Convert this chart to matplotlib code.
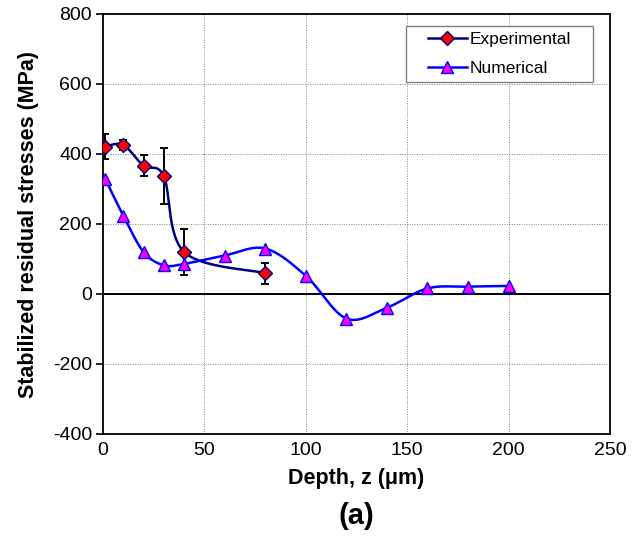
import numpy as np
import matplotlib
matplotlib.use("Agg")
import matplotlib.pyplot as plt
from matplotlib.lines import Line2D
from matplotlib.patches import Rectangle

plt.rcParams['font.family'] = ['Liberation Sans', 'DejaVu Sans']
plt.rcParams['axes.unicode_minus'] = False

exp_depth = [1, 10, 20, 30, 40, 80]
exp_stress = [421, 426, 366, 336, 120, 60]
exp_err = [35, 15, 30, 80, 65, 30]

num_depth = [1, 10, 20, 30, 40, 60, 80, 100, 120, 140, 160, 180, 200]
num_stress = [330, 224, 120, 82, 86, 110, 130, 52, -70, -39, 16, 21, 23]

x_ticks = [0, 50, 100, 150, 200, 250]
y_ticks = [-400, -200, 0, 200, 400, 600, 800]


def smooth(xs, ys, n=40):
    # Excel-style smoothed line: Bezier with Catmull-Rom control points
    xs = np.asarray(xs, float)
    ys = np.asarray(ys, float)
    P = np.column_stack([xs, ys])
    out = []
    m = len(P)
    for i in range(m - 1):
        p0 = P[i - 1] if i > 0 else P[i]
        p1 = P[i]
        p2 = P[i + 1]
        p3 = P[i + 2] if i + 2 < m else P[i + 1]
        c1 = p1 + (p2 - p0) / 6.0
        c2 = p2 - (p3 - p1) / 6.0
        t = np.linspace(0, 1, n)[:, None]
        seg = ((1 - t) ** 3) * p1 + 3 * ((1 - t) ** 2) * t * c1 + 3 * (1 - t) * t ** 2 * c2 + t ** 3 * p2
        out.append(seg if i == 0 else seg[1:])
    out = np.vstack(out)
    return out[:, 0], out[:, 1]


fig = plt.figure(figsize=(6.4, 5.37), dpi=100)
ax = fig.add_axes([103 / 640, 1 - 434 / 537, 507 / 640, 420 / 537])

ax.set_xlim(0, 250)
ax.set_ylim(-400, 800)
ax.set_xticks(x_ticks)
ax.set_yticks(y_ticks)
ax.grid(True, color='#808080', linestyle=(0, (1, 1.5)), linewidth=0.7)
ax.set_axisbelow(True)
ax.axhline(0, color='black', linewidth=1.4, zorder=1.5)

for s in ax.spines.values():
    s.set_color('black')
    s.set_linewidth(1.3)

ax.tick_params(axis='x', length=0, pad=6, labelsize=14)
ax.tick_params(axis='y', length=5, direction='out', width=1.2, labelsize=14, pad=3)

# Experimental
sx, sy = smooth(exp_depth, exp_stress)
ax.plot(sx, sy, color='#000080', linewidth=1.8, zorder=3)
ax.errorbar(exp_depth, exp_stress, yerr=exp_err, fmt='none', ecolor='black',
            elinewidth=1.4, capsize=2.7, capthick=1.4, zorder=3.5)
ax.plot(exp_depth, exp_stress, linestyle='none', marker='D', markersize=7,
        markerfacecolor='#FF0000', markeredgecolor='#000080', markeredgewidth=1.0, zorder=4)

# Numerical
nx, ny = smooth(num_depth, num_stress)
ax.plot(nx, ny, color='#0000FF', linewidth=1.8, zorder=3)
ax.plot(num_depth, num_stress, linestyle='none', marker='^', markersize=8.5,
        markerfacecolor='#FF00FF', markeredgecolor='#0000FF', markeredgewidth=1.0, zorder=4)

# Legend box
ax.add_patch(Rectangle((0.5976, 0.838), 0.9665 - 0.5976, 0.9714 - 0.838,
                       transform=ax.transAxes, facecolor='white', edgecolor='#808080',
                       linewidth=1.0, zorder=5))
h1 = Line2D([], [], color='#000080', linewidth=1.8, marker='D', markersize=7,
            markerfacecolor='#FF0000', markeredgecolor='#000080')
h2 = Line2D([], [], color='#0000FF', linewidth=1.8, marker='^', markersize=8.5,
            markerfacecolor='#FF00FF', markeredgecolor='#0000FF')
leg = ax.legend([h1, h2], ['Experimental', 'Numerical'], loc='center',
                bbox_to_anchor=(0.782, 0.9048), fontsize=12.5, frameon=False,
                handlelength=2.3, handletextpad=0.15, borderpad=0.0, labelspacing=0.78)
leg.set_zorder(6)

ax.set_xlabel('Depth, z (μm)', fontsize=15.5, fontweight='bold', labelpad=6)
ax.set_ylabel('Stabilized residual stresses (MPa)', fontsize=15.5, fontweight='bold', labelpad=10)

fig.text(356 / 640, 1 - 516 / 537, '(a)', fontsize=21, fontweight='bold', ha='center', va='center')

fig.savefig('out.png', dpi=100)
